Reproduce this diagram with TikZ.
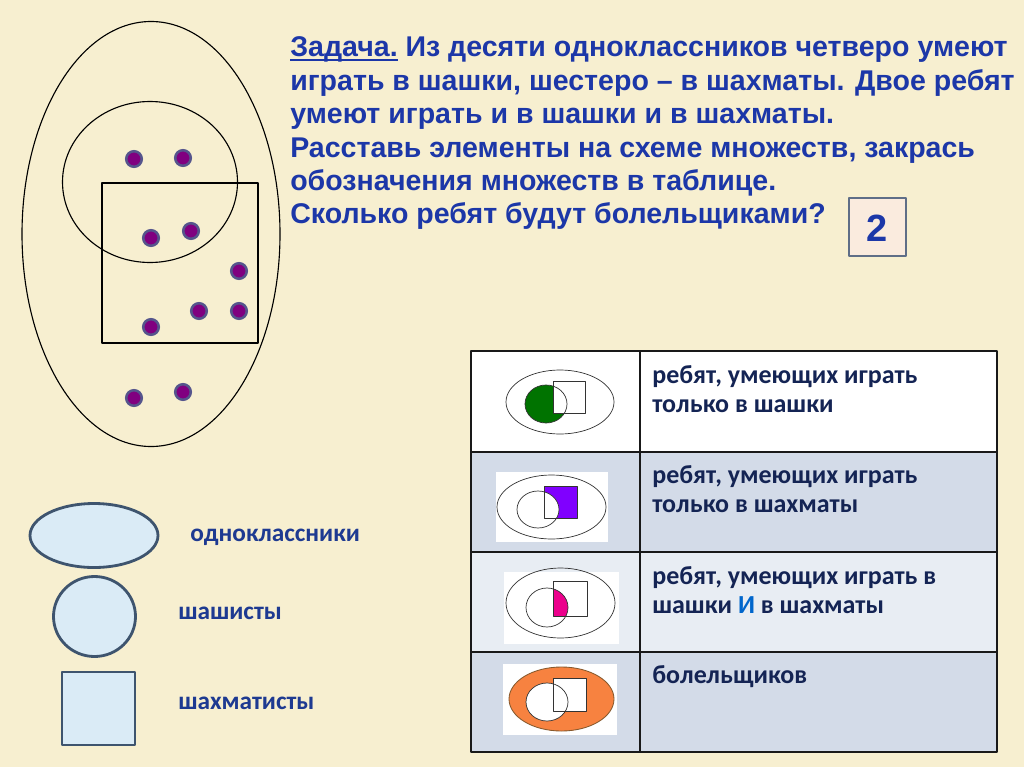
\documentclass[tikz,border=0pt]{standalone}
\usepackage{fontspec}
\setmainfont{Liberation Sans}
\newfontfamily\taskfont{Liberation Sans}
\newfontfamily\cellfont{Carlito}
\definecolor{paper}{RGB}{247,239,208}
\definecolor{taskblue}{RGB}{28,55,168}
\definecolor{cellink}{RGB}{20,36,84}
\definecolor{legendink}{RGB}{30,58,145}
\definecolor{rowdark}{RGB}{211,219,232}
\definecolor{rowlight}{RGB}{232,237,243}
\definecolor{legendfill}{RGB}{218,235,246}
\definecolor{legendline}{RGB}{62,84,110}
\definecolor{dotpurple}{RGB}{128,0,128}
\definecolor{dotring}{RGB}{85,85,140}
\definecolor{answerfill}{RGB}{250,235,222}
\definecolor{answerline}{RGB}{95,110,135}
\definecolor{chessviolet}{RGB}{128,0,255}
\definecolor{fansorange}{RGB}{247,130,64}
\newcommand\taskul[1]{\setbox0\hbox{#1}\rlap{\rule[-3pt]{\wd0}{1.3pt}}\box0\relax}
\usetikzlibrary{positioning}

\begin{document}
\begin{tikzpicture}[x=0.25mm,y=-0.25mm,line join=round,
  setline/.style={black,line width=0.8pt},
  iconline/.style={black!80,line width=0.5pt},
  legendshape/.style={fill=legendfill,draw=legendline,line width=2pt},
  cell/.style={anchor=north west,inner sep=0pt,align=left,font=\cellfont\bfseries\fontsize{18.5}{21}\selectfont,text=cellink},
  legendtext/.style={anchor=base west,inner sep=0pt,font=\cellfont\bfseries\fontsize{18}{20}\selectfont,text=legendink}]
  \fill[paper] (0,0) rectangle (1024,767);
  \useasboundingbox (0,0) rectangle (1024,767);

  % scheme of sets
  \draw[setline] (151,234) ellipse [x radius=129,y radius=212.5];
  \draw[setline] (150,182) ellipse [x radius=87.5,y radius=80.5];
  \draw[setline] (102,183) rectangle (258,343);
  \foreach \x/\y in {134/159,183/158,151/238,191/231,239/271,199/311,239/311,151/327,134/398,183/392}
    \filldraw[fill=dotpurple,draw=dotring,line width=1.8pt] (\x,\y) circle [radius=7.8];

  % task
  \node[anchor=north west,inner sep=0pt,align=left,text=taskblue,
        font=\taskfont\bfseries\fontsize{20.3}{23.8}\selectfont] (task) at (290,36.5)
    {\taskul{Задача.} Из десяти одноклассников четверо умеют\\
     играть в шашки, шестеро – в шахматы. Двое ребят\\
     умеют играть и в шашки и в шахматы.\\
     Расставь элементы на схеме множеств, закрась\\
     обозначения множеств в таблице.\\
     Сколько ребят будут болельщиками?};
  \draw[fill=answerfill,draw=answerline,line width=1.6pt] (849,198) rectangle (906,256);
  \node[text=taskblue,font=\taskfont\bfseries\fontsize{27}{30}\selectfont] (answer) at (877.5,228) {2};

  % legend
  \draw[legendshape] (94,535.5) ellipse [x radius=64,y radius=32];
  \draw[legendshape] (94.5,616.5) ellipse [x radius=41,y radius=40];
  \draw[legendshape] (62,672) rectangle (135,745);
  \node[legendtext] (pupils) at (190,541) {одноклассники};
  \node[legendtext] (draughts) at (178,619) {шашисты};
  \node[legendtext] (chess) at (178,709) {шахматисты};

  % table
  \fill[white] (471,351) rectangle (997,452);
  \fill[rowdark] (471,452) rectangle (997,552);
  \fill[rowlight] (471,552) rectangle (997,652);
  \fill[rowdark] (471,652) rectangle (997,752);
  \fill[white] (496,472) rectangle (608,542);
  \fill[white] (504,572) rectangle (619,644);
  \fill[white] (503,664) rectangle (617,735);
  \draw[black!90,line width=1.4pt] (471,351) rectangle (997,752)
    (640,351) -- (640,752) (471,452) -- (997,452) (471,552) -- (997,552) (471,652) -- (997,652);

  % icon: only draughts
  \fill[green!45!black] (546,404) ellipse [x radius=21,y radius=19];
  \fill[white] (553,381) rectangle (585,413);
  \draw[iconline] (560,402) ellipse [x radius=54,y radius=32];
  \draw[iconline] (546,404) ellipse [x radius=21,y radius=19];
  \draw[iconline] (553,381) rectangle (585,413);
  % icon: only chess
  \fill[chessviolet] (544,486) rectangle (577,518);
  \fill[white] (538,509.5) ellipse [x radius=21,y radius=18.5];
  \draw[iconline] (551.5,507) ellipse [x radius=54.5,y radius=32];
  \draw[iconline] (538,509.5) ellipse [x radius=21,y radius=18.5];
  \draw[iconline] (544,486) rectangle (577,518);
  % icon: both
  \begin{scope}
    \clip (547,607.5) ellipse [x radius=21,y radius=19.5];
    \fill[magenta] (553,581) rectangle (587,616);
  \end{scope}
  \draw[iconline] (560.5,603) ellipse [x radius=54.5,y radius=35];
  \draw[iconline] (547,607.5) ellipse [x radius=21,y radius=19.5];
  \draw[iconline] (553,581) rectangle (587,616);
  % icon: fans
  \filldraw[fill=fansorange,draw=brown!70!black,line width=0.6pt] (561.5,699) ellipse [x radius=52.5,y radius=32];
  \fill[white] (547,702) ellipse [x radius=21,y radius=19];
  \fill[white] (553,678) rectangle (586,711);
  \draw[iconline] (547,702) ellipse [x radius=21,y radius=19];
  \draw[iconline] (553,678) rectangle (586,711);

  \node[cell] (onlyd) at (652,365) {ребят, умеющих играть\\только в шашки};
  \node[cell] (onlyc) at (652,465) {ребят, умеющих играть\\только в шахматы};
  \node[cell] (both) at (652,566) {ребят, умеющих играть в\\шашки \textcolor{blue!50!cyan!80!black}{И} в шахматы};
  \node[cell] (fans) at (652,665) {болельщиков};
\end{tikzpicture}
\end{document}
